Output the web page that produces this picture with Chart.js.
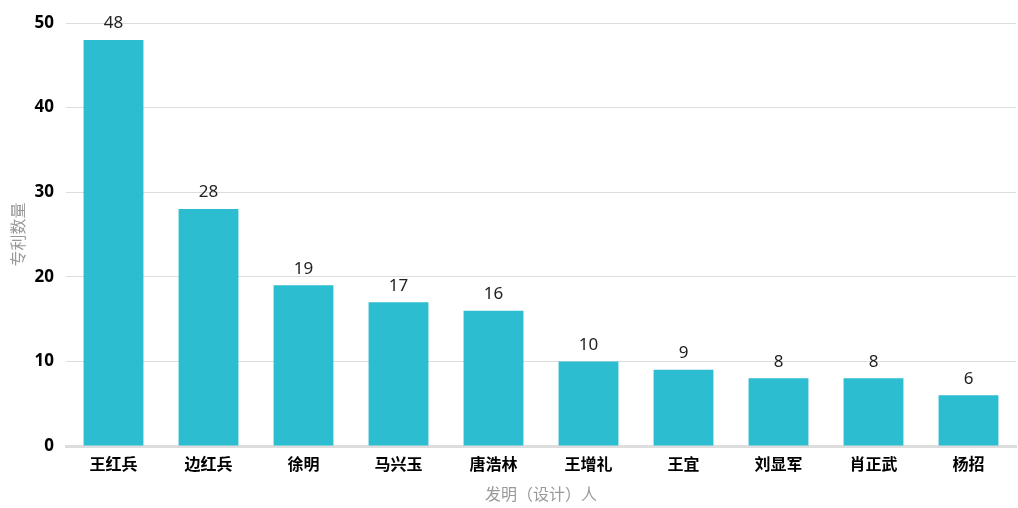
<!DOCTYPE html>
<html lang="zh">
<head>
  <meta charset="UTF-8">
  <title>专利数量</title>
  <script src="https://cdn.jsdelivr.net/npm/chart.js"></script>
  <style>
    html, body { margin: 0; padding: 0; background: #fff; }
    #wrap { width: 1018px; height: 508px; }
  </style>
</head>
<body>
  <div id="wrap"><canvas id="patentChart"></canvas></div>
  <script>
    const inventors = ['王红兵', '边红兵', '徐明', '马兴玉', '唐浩林', '王增礼', '王宜', '刘显军', '肖正武', '杨招'];
    const patentCounts = [48, 28, 19, 17, 16, 10, 9, 8, 8, 6];
    const yTicks = [0, 10, 20, 30, 40, 50];

    const fontFamily = '"Noto Sans", "Noto Sans CJK SC", sans-serif';

    // draws the value above each bar
    const valueLabels = {
      id: 'valueLabels',
      afterDatasetsDraw(chart) {
        const ctx = chart.ctx;
        const meta = chart.getDatasetMeta(0);
        ctx.save();
        ctx.font = '17px ' + fontFamily;
        ctx.fillStyle = '#222';
        ctx.textAlign = 'center';
        ctx.textBaseline = 'bottom';
        meta.data.forEach((bar, i) => {
          ctx.fillText(patentCounts[i], bar.x, bar.y - 8);
        });
        ctx.restore();
      }
    };

    new Chart(document.getElementById('patentChart'), {
      type: 'bar',
      data: {
        labels: inventors,
        datasets: [{
          data: patentCounts,
          backgroundColor: '#2cbdd0',
          borderWidth: 0,
          categoryPercentage: 1,
          barPercentage: 0.63
        }]
      },
      options: {
        responsive: true,
        maintainAspectRatio: false,
        animation: false,
        layout: { padding: { top: 23, right: 2, left: 0, bottom: 0 } },
        plugins: {
          legend: { display: false },
          tooltip: { enabled: false }
        },
        scales: {
          x: {
            grid: { display: false, drawTicks: false },
            border: { color: '#ddd', width: 3 },
            ticks: {
              padding: 8,
              color: '#000',
              font: { family: '"Noto Sans CJK SC", sans-serif', size: 16, weight: 'bold' }
            },
            title: {
              display: true,
              text: '发明（设计）人',
              color: '#999',
              font: { family: '"Noto Sans CJK SC", sans-serif', size: 16 },
              padding: { top: 4, bottom: 4 }
            },
            afterFit(scale) { scale.height = 62; }
          },
          y: {
            min: 0,
            max: 50,
            afterBuildTicks(scale) { scale.ticks = yTicks.map(v => ({ value: v })); },
            grid: { color: '#ddd', drawTicks: false },
            border: { display: false },
            ticks: {
              padding: 12,
              color: '#000',
              font: { family: fontFamily, size: 17, weight: 'bold' }
            },
            title: {
              display: true,
              text: '专利数量',
              color: '#999',
              font: { family: '"Noto Sans CJK SC", sans-serif', size: 16 },
              padding: { top: 8, bottom: 0 }
            },
            afterFit(scale) { scale.width = 66; }
          }
        }
      },
      plugins: [valueLabels]
    });
  </script>
</body>
</html>
